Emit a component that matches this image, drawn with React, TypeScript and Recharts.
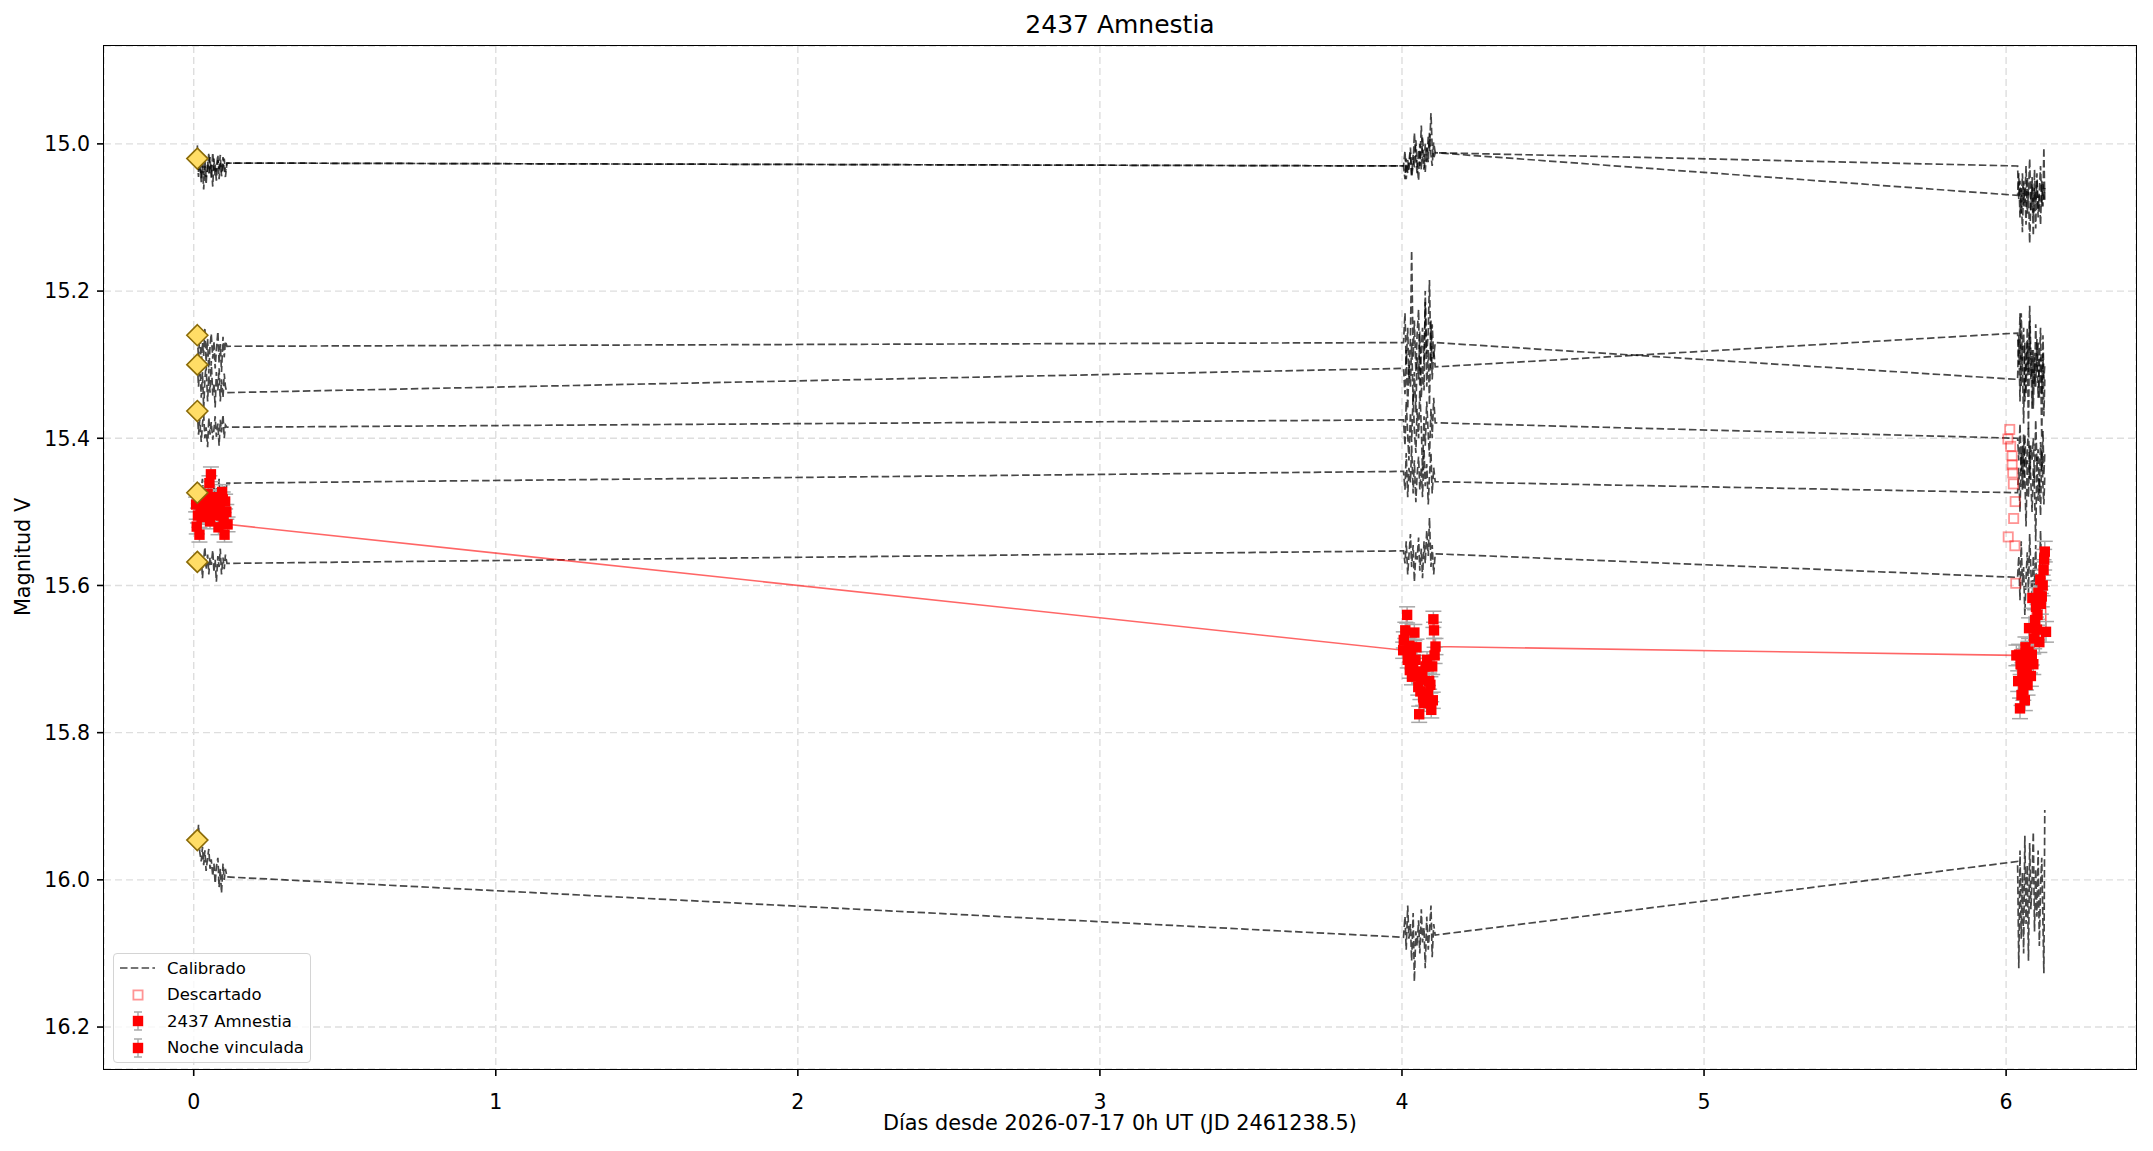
import { ComposedChart, Line, Scatter, XAxis, YAxis, CartesianGrid, ErrorBar } from "recharts";

// tiempos de observación de las comparaciones (días desde 2026-07-17 0h UT)
const calTimes0 = [
  0.012, 0.016, 0.020, 0.025, 0.029, 0.033, 0.037, 0.041,
  0.046, 0.050, 0.054, 0.058, 0.063, 0.067, 0.071, 0.075,
  0.080, 0.084, 0.088, 0.092, 0.097, 0.101, 0.105, 0.110,
];
const calTimes4 = [
  4.005, 4.010, 4.014, 4.019, 4.023, 4.028, 4.032, 4.037,
  4.041, 4.046, 4.050, 4.055, 4.059, 4.064, 4.068, 4.073,
  4.077, 4.082, 4.087, 4.091, 4.096, 4.100, 4.105, 4.110,
];
const calTimes6 = [
  6.038, 6.042, 6.046, 6.050, 6.054, 6.058, 6.062, 6.066,
  6.070, 6.074, 6.078, 6.082, 6.086, 6.090, 6.094, 6.098,
  6.102, 6.106, 6.110, 6.114, 6.118, 6.122, 6.125, 6.128,
];

// estrellas de comparación calibradas (noche 0 | noche 4 | noche 6)
const calStar1 = [
  15.002, 15.038, 15.025, 15.048, 15.020, 15.042, 15.030, 15.055, 15.024, 15.040, 15.018, 15.046, 15.012, 15.036, 15.028, 15.050, 15.022, 15.034, 15.015, 15.044, 15.030, 15.020, 15.038, 15.026,
  15.030, 15.048, 15.020, 15.040, 15.025, 15.005, 15.042, 15.015, 15.032, 14.995, 15.028, 15.050, 15.000, 15.035, 14.990, 15.020, 15.038, 15.005, 15.025, 14.985, 15.015, 15.030, 14.998, 15.012,
  15.030, 15.075, 15.050, 15.095, 15.040, 15.085, 15.060, 15.110, 15.045, 15.070, 15.020, 15.090, 15.055, 15.125, 15.035, 15.080, 15.050, 15.100, 15.065, 15.030, 15.085, 15.055, 15.075, 15.060,
];
const calStar2 = [
  15.025, 15.045, 15.018, 15.052, 15.030, 15.062, 15.022, 15.045, 15.035, 15.012, 15.040, 15.028, 15.058, 15.020, 15.045, 15.032, 15.015, 15.048, 15.025, 15.040, 15.018, 15.035, 15.045, 15.026,
  15.030, 15.010, 15.048, 15.022, 15.035, 15.012, 15.045, 15.028, 14.985, 15.020, 15.040, 15.008, 15.030, 14.975, 15.018, 15.035, 15.000, 15.025, 14.990, 15.010, 14.958, 15.005, 15.020, 15.012,
  15.070, 15.040, 15.100, 15.060, 15.120, 15.050, 15.080, 15.030, 15.095, 15.065, 15.135, 15.075, 15.045, 15.100, 15.060, 15.115, 15.040, 15.090, 15.070, 15.110, 15.050, 15.085, 15.005, 15.080,
];
const calStar3 = [
  15.262, 15.292, 15.255, 15.302, 15.270, 15.288, 15.250, 15.296, 15.265, 15.312, 15.275, 15.258, 15.292, 15.268, 15.305, 15.280, 15.255, 15.298, 15.272, 15.310, 15.262, 15.290, 15.268, 15.275,
  15.270, 15.230, 15.300, 15.250, 15.320, 15.265, 15.145, 15.290, 15.240, 15.310, 15.260, 15.225, 15.330, 15.280, 15.250, 15.300, 15.215, 15.285, 15.255, 15.185, 15.305, 15.245, 15.290, 15.270,
  15.320, 15.260, 15.350, 15.230, 15.300, 15.380, 15.270, 15.340, 15.250, 15.310, 15.220, 15.290, 15.360, 15.280, 15.330, 15.245, 15.310, 15.270, 15.345, 15.290, 15.400, 15.260, 15.320, 15.300,
];
const calStar4 = [
  15.300, 15.330, 15.292, 15.345, 15.310, 15.360, 15.320, 15.300, 15.350, 15.315, 15.338, 15.295, 15.342, 15.325, 15.358, 15.310, 15.335, 15.305, 15.350, 15.320, 15.345, 15.312, 15.330, 15.338,
  15.305, 15.340, 15.280, 15.360, 15.300, 15.330, 15.270, 15.350, 15.310, 15.365, 15.290, 15.320, 15.255, 15.345, 15.300, 15.335, 15.200, 15.330, 15.280, 15.355, 15.240, 15.320, 15.280, 15.303,
  15.257, 15.300, 15.230, 15.330, 15.280, 15.250, 15.350, 15.300, 15.270, 15.390, 15.240, 15.320, 15.280, 15.360, 15.290, 15.330, 15.265, 15.345, 15.300, 15.250, 15.340, 15.285, 15.370, 15.320,
];
const calStar5 = [
  15.363, 15.395, 15.375, 15.405, 15.380, 15.368, 15.400, 15.385, 15.412, 15.372, 15.395, 15.378, 15.402, 15.388, 15.370, 15.398, 15.380, 15.410, 15.375, 15.392, 15.368, 15.400, 15.382, 15.385,
  15.375, 15.410, 15.350, 15.395, 15.430, 15.365, 15.405, 15.340, 15.390, 15.420, 15.360, 15.400, 15.335, 15.385, 15.445, 15.370, 15.410, 15.350, 15.395, 15.425, 15.360, 15.400, 15.345, 15.379,
  15.400, 15.430, 15.380, 15.445, 15.410, 15.470, 15.395, 15.440, 15.420, 15.385, 15.455, 15.410, 15.430, 15.400, 15.460, 15.375, 15.435, 15.415, 15.475, 15.405, 15.445, 15.390, 15.450, 15.420,
];
const calStar6 = [
  15.474, 15.460, 15.490, 15.470, 15.455, 15.485, 15.465, 15.495, 15.475, 15.458, 15.488, 15.470, 15.480, 15.462, 15.492, 15.468, 15.478, 15.455, 15.485, 15.470, 15.490, 15.465, 15.475, 15.461,
  15.445, 15.470, 15.420, 15.480, 15.440, 15.460, 15.410, 15.475, 15.430, 15.487, 15.450, 15.425, 15.470, 15.440, 15.480, 15.415, 15.465, 15.435, 15.490, 15.450, 15.420, 15.475, 15.440, 15.459,
  15.474, 15.440, 15.500, 15.420, 15.470, 15.395, 15.450, 15.520, 15.430, 15.480, 15.410, 15.460, 15.500, 15.440, 15.470, 15.540, 15.425, 15.485, 15.455, 15.505, 15.415, 15.465, 15.490, 15.450,
];
const calStar7 = [
  15.568, 15.555, 15.580, 15.560, 15.590, 15.565, 15.548, 15.578, 15.558, 15.585, 15.562, 15.572, 15.552, 15.582, 15.565, 15.595, 15.560, 15.575, 15.550, 15.585, 15.562, 15.578, 15.558, 15.570,
  15.553, 15.570, 15.540, 15.585, 15.560, 15.530, 15.575, 15.545, 15.595, 15.555, 15.565, 15.535, 15.580, 15.550, 15.590, 15.540, 15.570, 15.525, 15.560, 15.508, 15.575, 15.545, 15.585, 15.557,
  15.589, 15.560, 15.620, 15.540, 15.600, 15.575, 15.640, 15.590, 15.555, 15.610, 15.530, 15.580, 15.620, 15.560, 15.600, 15.545, 15.630, 15.585, 15.610, 15.525, 15.595, 15.565, 15.615, 15.575,
];
const calStar8 = [
  15.950, 15.925, 15.962, 15.975, 15.955, 15.980, 15.960, 15.988, 15.970, 15.958, 15.985, 15.972, 15.995, 15.978, 16.005, 15.982, 15.970, 16.010, 15.985, 16.018, 15.978, 16.000, 15.985, 15.996,
  16.078, 16.050, 16.095, 16.035, 16.080, 16.060, 16.110, 16.045, 16.138, 16.070, 16.090, 16.055, 16.100, 16.040, 16.085, 16.065, 16.120, 16.050, 16.095, 16.070, 16.035, 16.105, 16.060, 16.075,
  15.975, 16.120, 15.960, 16.080, 15.990, 16.100, 15.940, 16.060, 15.980, 16.110, 15.950, 16.040, 16.000, 15.935, 16.070, 15.985, 16.050, 15.960, 16.090, 16.010, 15.970, 16.060, 16.127, 15.905,
];

// magnitudes de catálogo de las comparaciones
const refTime = 0.012;
const refMags = [15.02, 15.26, 15.30, 15.363, 15.474, 15.568, 15.946];

// objetivo 2437 Amnestia
const targetTimes0 = [0.008, 0.010, 0.014, 0.017, 0.019, 0.023, 0.027, 0.031, 0.035, 0.038, 0.042, 0.046, 0.050, 0.052, 0.054, 0.057, 0.061, 0.065, 0.068, 0.071, 0.075, 0.078, 0.082, 0.086, 0.090, 0.094, 0.096, 0.099, 0.102, 0.104, 0.108, 0.112];
const targetMags0 = [15.490, 15.520, 15.505, 15.479, 15.531, 15.500, 15.507, 15.485, 15.490, 15.497, 15.488, 15.476, 15.495, 15.461, 15.513, 15.449, 15.500, 15.490, 15.484, 15.504, 15.480, 15.495, 15.521, 15.490, 15.505, 15.473, 15.483, 15.511, 15.531, 15.486, 15.500, 15.517];
const targetTimes4 = [4.004, 4.006, 4.011, 4.017, 4.019, 4.024, 4.026, 4.030, 4.033, 4.037, 4.041, 4.045, 4.048, 4.050, 4.054, 4.057, 4.061, 4.064, 4.067, 4.070, 4.073, 4.078, 4.083, 4.086, 4.090, 4.094, 4.097, 4.100, 4.102, 4.104, 4.106, 4.108, 4.111];
const targetMags4 = [15.688, 15.674, 15.661, 15.640, 15.701, 15.682, 15.715, 15.692, 15.724, 15.705, 15.664, 15.701, 15.684, 15.717, 15.738, 15.775, 15.744, 15.728, 15.722, 15.752, 15.760, 15.710, 15.701, 15.747, 15.730, 15.735, 15.769, 15.710, 15.756, 15.646, 15.661, 15.695, 15.683];
const targetTimes6 = [6.034, 6.040, 6.043, 6.046, 6.048, 6.051, 6.054, 6.057, 6.059, 6.062, 6.064, 6.066, 6.068, 6.071, 6.074, 6.076, 6.079, 6.082, 6.085, 6.087, 6.090, 6.093, 6.096, 6.099, 6.102, 6.104, 6.107, 6.110, 6.113, 6.115, 6.118, 6.121, 6.124, 6.126, 6.128, 6.132];
const targetMags6 = [15.695, 15.730, 15.694, 15.767, 15.707, 15.749, 15.719, 15.742, 15.700, 15.756, 15.684, 15.728, 15.712, 15.735, 15.690, 15.658, 15.705, 15.723, 15.694, 15.617, 15.707, 15.672, 15.647, 15.629, 15.660, 15.640, 15.610, 15.677, 15.592, 15.625, 15.615, 15.600, 15.579, 15.565, 15.554, 15.663];
const targetErr0 = 0.010;
const targetErr4 = 0.011;
const targetErr6 = 0.014;

// puntos descartados
const discTimes = [6.012, 6.006, 6.015, 6.020, 6.020, 6.022, 6.024, 6.030, 6.025, 6.007, 6.029, 6.032];
const discMags = [15.388, 15.401, 15.411, 15.424, 15.436, 15.447, 15.462, 15.486, 15.509, 15.534, 15.546, 15.597];

const xTicks = [0, 1, 2, 3, 4, 5, 6];
const yTicks = [15.0, 15.2, 15.4, 15.6, 15.8, 16.0, 16.2];

const FONT = "'DejaVu Sans', sans-serif";

const calTimes = [...calTimes0, ...calTimes4, ...calTimes6];
const toPts = (times: number[], mags: number[]) => times.map((x, i) => ({ x, y: mags[i] }));
const toErrPts = (times: number[], mags: number[], err: number) => times.map((x, i) => ({ x, y: mags[i], err }));

const calSeries = [calStar1, calStar2, calStar3, calStar4, calStar5, calStar6, calStar7, calStar8].map((m) => toPts(calTimes, m));
const refPts = refMags.map((y) => ({ x: refTime, y }));
const target0 = toErrPts(targetTimes0, targetMags0, targetErr0);
const targetLinked = [...toErrPts(targetTimes4, targetMags4, targetErr4), ...toErrPts(targetTimes6, targetMags6, targetErr6)];
const targetLine = [...target0, ...targetLinked];
const discPts = toPts(discTimes, discMags);

const RedSquare = (p: any) => <rect x={p.cx - 5.2} y={p.cy - 5.2} width={10.4} height={10.4} fill="#ff0000" />;
const OpenSquare = (p: any) => (
  <rect x={p.cx - 4.6} y={p.cy - 4.6} width={9.2} height={9.2} fill="none" stroke="#ff0000" strokeOpacity={0.42} strokeWidth={1.8} />
);
const Diamond = (p: any) => {
  const r = 10.5;
  return (
    <polygon
      points={`${p.cx},${p.cy - r} ${p.cx + r},${p.cy} ${p.cx},${p.cy + r} ${p.cx - r},${p.cy}`}
      fill="#ffdd66"
      stroke="#8b6b08"
      strokeWidth={1.6}
    />
  );
};

const legendItems = [
  { label: "Calibrado", kind: "line" },
  { label: "Descartado", kind: "open" },
  { label: "2437 Amnestia", kind: "err" },
  { label: "Noche vinculada", kind: "err" },
];

const LegendHandle = ({ kind }: { kind: string }) => (
  <svg width={44} height={26}>
    {kind === "line" && <line x1={5} x2={40} y1={13} y2={13} stroke="#000" strokeOpacity={0.72} strokeWidth={1.7} strokeDasharray="7.5 3.3" />}
    {kind === "open" && <rect x={18.4} y={8.4} width={9.2} height={9.2} fill="none" stroke="#ff0000" strokeOpacity={0.42} strokeWidth={1.8} />}
    {kind === "err" && (
      <g stroke="#a8a8a8" strokeWidth={1.5}>
        <line x1={23} x2={23} y1={4} y2={22} />
        <line x1={19} x2={27} y1={4} y2={4} />
        <line x1={19} x2={27} y1={22} y2={22} />
        <rect x={17.8} y={7.8} width={10.4} height={10.4} fill="#ff0000" stroke="none" />
      </g>
    )}
  </svg>
);

export default function App() {
  return (
    <div style={{ position: "absolute", left: 0, top: 0, width: 2153, height: 1151, background: "#fff", fontFamily: FONT }}>
      <ComposedChart width={2153} height={1151} margin={{ top: 46, right: 17, bottom: 22, left: 24 }}>
        <CartesianGrid stroke="#dedede" strokeDasharray="7 4" strokeWidth={1.4} />
        <XAxis
          dataKey="x"
          type="number"
          domain={[-0.297, 6.43]}
          allowDataOverflow
          ticks={xTicks}
          height={60}
          axisLine={false}
          tickLine={{ stroke: "#000", strokeWidth: 1.6 }}
          tickSize={7}
          tickMargin={18}
          tick={{ fill: "#000", fontSize: 20.5, fontFamily: FONT }}
        />
        <YAxis
          dataKey="y"
          type="number"
          reversed
          domain={[14.867, 16.257]}
          allowDataOverflow
          ticks={yTicks}
          tickFormatter={(v: number) => v.toFixed(1)}
          width={80}
          axisLine={false}
          tickLine={{ stroke: "#000", strokeWidth: 1.6 }}
          tickSize={7}
          tickMargin={7}
          tick={{ fill: "#000", fontSize: 20.5, fontFamily: FONT }}
        />
        {calSeries.map((pts, i) => (
          <Line
            key={`cal-${i}`}
            data={pts}
            dataKey="y"
            type="linear"
            stroke="#000"
            strokeOpacity={0.72}
            strokeWidth={1.7}
            strokeDasharray="7.5 3.3"
            dot={false}
            activeDot={false}
            isAnimationActive={false}
          />
        ))}
        <Line
          data={targetLine}
          dataKey="y"
          type="linear"
          stroke="#ff0000"
          strokeOpacity={0.6}
          strokeWidth={1.6}
          dot={false}
          activeDot={false}
          isAnimationActive={false}
        />
        <Scatter name="Descartado" data={discPts} shape={OpenSquare} isAnimationActive={false} />
        <Scatter name="2437 Amnestia" data={target0} shape={RedSquare} isAnimationActive={false}>
          <ErrorBar dataKey="err" direction="y" width={8} stroke="#a8a8a8" strokeWidth={1.5} />
        </Scatter>
        <Scatter name="Noche vinculada" data={targetLinked} shape={RedSquare} isAnimationActive={false}>
          <ErrorBar dataKey="err" direction="y" width={8} stroke="#a8a8a8" strokeWidth={1.5} />
        </Scatter>
        <Scatter name="Referencia" data={refPts} shape={Diamond} isAnimationActive={false} />
      </ComposedChart>

      {/* marco de los ejes */}
      <div style={{ position: "absolute", left: 103.2, top: 45.2, width: 2033.6, height: 1024.6, border: "1.6px solid #000", boxSizing: "border-box", pointerEvents: "none" }} />

      <div style={{ position: "absolute", left: 104, width: 2032, top: 10, textAlign: "center", fontSize: 25, lineHeight: "30px" }}>2437 Amnestia</div>
      <div style={{ position: "absolute", left: 104, width: 2032, top: 1110, textAlign: "center", fontSize: 20.8, lineHeight: "26px" }}>
        Días desde 2026-07-17 0h UT (JD 2461238.5)
      </div>
      <div
        style={{
          position: "absolute",
          left: 23,
          top: 557,
          transform: "translate(-50%, -50%) rotate(-90deg)",
          fontSize: 20.8,
          whiteSpace: "nowrap",
        }}
      >
        Magnitud V
      </div>

      <div
        style={{
          position: "absolute",
          left: 113,
          top: 953,
          width: 198,
          height: 110,
          border: "1.3px solid #d4d4d4",
          borderRadius: 4,
          background: "rgba(255,255,255,0.8)",
          boxSizing: "border-box",
          paddingTop: 1,
        }}
      >
        {legendItems.map((it) => (
          <div key={it.label} style={{ display: "flex", alignItems: "center", height: 26.5 }}>
            <div style={{ width: 52, paddingLeft: 1, display: "flex" }}>
              <LegendHandle kind={it.kind} />
            </div>
            <span style={{ fontSize: 16.5, whiteSpace: "nowrap" }}>{it.label}</span>
          </div>
        ))}
      </div>
    </div>
  );
}
